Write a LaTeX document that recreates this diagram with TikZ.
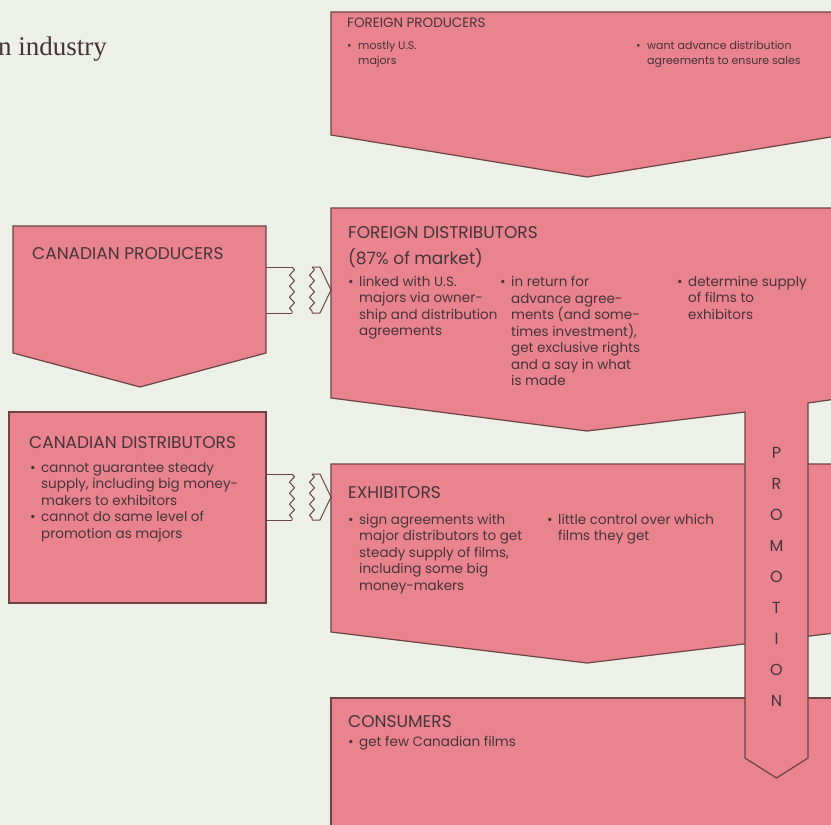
\documentclass[tikz,border=0pt]{standalone}
\usepackage{fontspec}
\setsansfont{Poppins}
\newfontfamily\titlefont{Liberation Serif}
\usetikzlibrary{decorations.pathmorphing}
\definecolor{paper}{RGB}{237,240,233}
\definecolor{boxfill}{RGB}{233,131,142}
\definecolor{boxdraw}{RGB}{108,68,68}
\definecolor{ink}{RGB}{70,52,56}
\tikzset{
   every path/.style={>=stealth},
   panel/.style={fill=boxfill, draw=boxdraw, line width=1.2pt, line join=miter},
   wire/.style={draw=boxdraw, line width=1pt},
   zz/.style={wire, decorate, decoration={zigzag, segment length=11pt, amplitude=2.5pt}},
   hd/.style={anchor=base west, inner sep=0pt, text=ink, font=\sffamily\fontsize{17}{19}\selectfont},
   txt/.style={anchor=north west, inner sep=0pt, text=ink, align=left, font=\sffamily\fontsize{13.5}{16.5}\selectfont},
   small/.style={font=\sffamily\fontsize{11}{15}\selectfont},
}
\newcommand{\bul}{\makebox[11pt][l]{\textbullet}}
\newcommand{\ind}{\hspace*{11pt}}

\begin{document}
\begin{tikzpicture}[x=1pt,y=-1pt]
\useasboundingbox (0,0) rectangle (831,825);
\fill[paper] (0,0) rectangle (831,825);
\begin{scope}
\clip (0,0) rectangle (831,825);
% right column
\draw[panel] (331,12) -- (843,12) -- (843,135) -- (587,177) -- (331,135) -- cycle;
\draw[panel] (331,464) -- (843,464) -- (843,632) -- (587,663) -- (331,632) -- cycle;
\draw[panel] (331,698) -- (843,698) -- (843,840) -- (331,840) -- cycle;
\draw[panel] (331,208) -- (843,208) -- (843,398) -- (808,403) -- (808,758) -- (776.5,778)
   -- (745,758) -- (745,412) -- (587,431) -- (331,398) -- cycle;
% left column
\draw[panel] (13,226) -- (266,226) -- (266,353) -- (140,387) -- (13,353) -- cycle;
\draw[panel] (9,412) rectangle (266,603);
\end{scope}

% broken links to the majors
\foreach \m in {290,497} {
  \draw[wire] (266,\m-23) -- (292,\m-23);
  \draw[wire] (266,\m+23) -- (292,\m+23);
  \draw[zz] (292,\m-23) -- (292,\m+23);
  \draw[zz] (312,\m-23) -- (312,\m+23);
  \draw[wire] (312,\m-23) -- (320,\m-23) -- (331,\m) -- (320,\m+23) -- (312,\m+23);
}

\node[anchor=base west, inner sep=0pt, text=ink, font=\titlefont\fontsize{27}{30}\selectfont] (title) at (-2,55) {n industry};

\node[hd, font=\sffamily\fontsize{13.5}{15}\selectfont] (fpHead) at (347,27) {FOREIGN PRODUCERS};
\node[txt, small] (fpA) at (347,41) {\bul mostly U.S.\\\ind majors};
\node[txt, small] (fpB) at (636,41) {\bul want advance distribution\\\ind agreements to ensure sales};

\node[hd] (fdHead) at (348,238) {FOREIGN DISTRIBUTORS};
\node[hd] (fdShare) at (348,264) {(87\% of market)};
\node[txt] (fdA) at (348,276) {\bul linked with U.S.\\\ind majors via owner-\\\ind ship and distribution\\\ind agreements};
\node[txt] (fdB) at (500,276) {\bul in return for\\\ind advance agree-\\\ind ments (and some-\\\ind times investment),\\\ind get exclusive rights\\\ind and a say in what\\\ind is made};
\node[txt] (fdC) at (677,276) {\bul determine supply\\\ind of films to\\\ind exhibitors};

\node[hd] (cpHead) at (32,259) {CANADIAN PRODUCERS};

\node[hd] (cdHead) at (29,448) {CANADIAN DISTRIBUTORS};
\node[txt] (cdA) at (30,462) {\bul cannot guarantee steady\\\ind supply, including big money-\\\ind makers to exhibitors\\\bul cannot do same level of\\\ind promotion as majors};

\node[hd] (exHead) at (348,498) {EXHIBITORS};
\node[txt] (exA) at (348,514) {\bul sign agreements with\\\ind major distributors to get\\\ind steady supply of films,\\\ind including some big\\\ind money-makers};
\node[txt] (exB) at (547,514) {\bul little control over which\\\ind films they get};

\node[hd] (coHead) at (348,727) {CONSUMERS};
\node[txt] (coA) at (348,736) {\bul get few Canadian films};

\foreach \l [count=\i from 0] in {P,R,O,M,O,T,I,O,N}
  \node[hd, anchor=base, font=\sffamily\fontsize{16}{18}\selectfont] (promo\i) at (776.5,458+31*\i) {\l};
\end{tikzpicture}
\end{document}
